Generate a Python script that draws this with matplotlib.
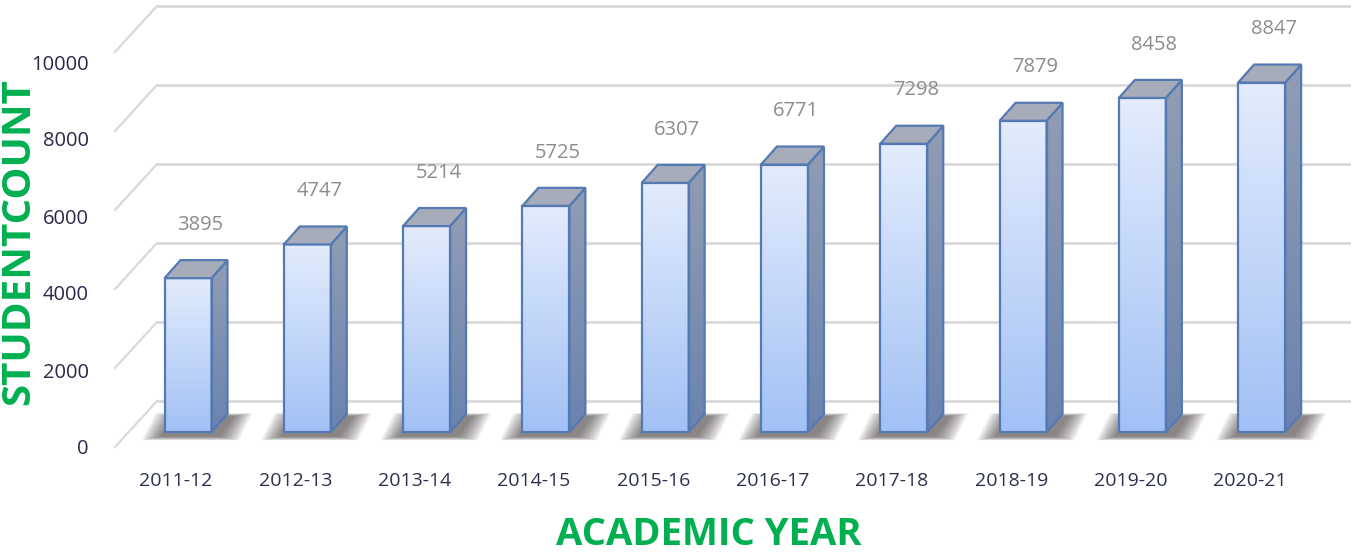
import matplotlib.pyplot as plt
import numpy as np
from matplotlib.colors import LinearSegmentedColormap
from matplotlib.patches import Polygon

years = ["2011-12", "2012-13", "2013-14", "2014-15", "2015-16",
         "2016-17", "2017-18", "2018-19", "2019-20", "2020-21"]
counts = [3895, 4747, 5214, 5725, 6307, 6771, 7298, 7879, 8458, 8847]
y_ticks = [0, 2000, 4000, 6000, 8000, 10000]

# fake 3-D geometry, in data units (x: categories, y: student count)
BAR_W = 0.394
DX, DY = 0.134, 456          # bar depth offset
WALL_X, WALL_DY = -0.26, 785  # back wall left edge / lift
FLOOR_DX, FLOOR_DY = 0.352, 1165

GREEN = "#00b050"
EDGE = "#5479b3"
FONT = "Open Sans"

front_cmap = LinearSegmentedColormap.from_list("front", ["#a2c1f5", "#e3ecfc"])
side_cmap = LinearSegmentedColormap.from_list("side", ["#6a83ae", "#919db4"])
grad = np.linspace(0, 1, 256).reshape(-1, 1)

fig = plt.figure(figsize=(13.51, 5.52), dpi=100)
ax = fig.add_axes([0, 0, 1, 1])
ax.set_axis_off()

# back wall gridlines + floor diagonals
for v in y_ticks:
    yb = v + WALL_DY
    ax.plot([WALL_X, 9.75], [yb, yb], color="#d9d9d9", lw=2, zorder=1,
            solid_capstyle="butt")
    ax.plot([WALL_X, WALL_X - FLOOR_DX], [yb, yb - FLOOR_DY], color="#d9d9d9",
            lw=1.6, zorder=1)

x = np.arange(len(years))
bars = ax.bar(x, counts, width=BAR_W, color="none", edgecolor=EDGE, lw=1.6,
              zorder=5)

for i, (b, v) in enumerate(zip(bars, counts)):
    x0, x1 = b.get_x(), b.get_x() + b.get_width()

    # soft floor shadow: stack of translucent shrinking parallelograms
    n = 14
    for k in range(n):
        s = 1 - k / n
        sx, sy = 0.17 * s, 200 * s
        shadow = Polygon([(x0 - 0.02 - sx, -110 - sy * 0.5),
                          (x1 + 0.06 + sx, -110 - sy * 0.5),
                          (x1 + DX + 0.04 + sx, DY - 60 + sy * 0.4),
                          (x0 + DX - 0.04 - sx, DY - 60 + sy * 0.4)],
                         closed=True, facecolor="#3b3633", edgecolor="none",
                         alpha=0.06, zorder=2)
        ax.add_patch(shadow)

    # front face gradient
    im = ax.imshow(grad, cmap=front_cmap, origin="lower", aspect="auto",
                   extent=[x0, x1, 0, v], zorder=4)
    im.set_clip_path(b)

    # side face
    side = Polygon([(x1, 0), (x1 + DX, DY), (x1 + DX, v + DY), (x1, v)],
                   closed=True, facecolor="none", edgecolor=EDGE, lw=1.6,
                   zorder=5)
    ax.add_patch(side)
    im2 = ax.imshow(grad, cmap=side_cmap, origin="lower", aspect="auto",
                    extent=[x1, x1 + DX, 0, v + DY], zorder=4)
    im2.set_clip_path(side)

    # top face
    top = Polygon([(x0, v), (x1, v), (x1 + DX, v + DY), (x0 + DX, v + DY)],
                  closed=True, facecolor="#a6acb9", edgecolor=EDGE, lw=1.6,
                  zorder=5)
    ax.add_patch(top)

    ax.text(i + 0.1, v + 1350, f"{v}", ha="center", va="center",
            color="#8c8c8c", fontsize=14.5, family=FONT, zorder=6)
    ax.text(i - 0.1, -1240, years[i], ha="center", va="center",
            color="#2b3050", fontsize=14, family=FONT)

ax.set_xlim(-1.576, 9.749)
ax.set_ylim(-3038, 10937)

# y tick labels sit at the front ends of the floor diagonals
ay = fig.add_axes([115 / 1351, (552 - 447) / 552, 0.001, (447 - 62) / 552])
ay.set_ylim(0, 10000)
ay.set_yticks(y_ticks)
ay.set_yticklabels([str(t) for t in y_ticks], family=FONT, fontsize=14.5,
                   color="#2a2848")
ay.tick_params(axis="y", length=0, pad=19)
ay.set_xticks([])
for sp in ay.spines.values():
    sp.set_visible(False)
ay.patch.set_alpha(0)

fig.text(19 / 1351, 1 - 242 / 552, "STUDENTCOUNT", rotation=90, ha="center",
         va="center", color=GREEN, fontsize=29, fontweight="bold", family=FONT)
fig.text(709 / 1351, 1 - 535 / 552, "ACADEMIC YEAR", ha="center", va="center",
         color=GREEN, fontsize=27.5, fontweight="bold", family=FONT)

fig.savefig("out.png", dpi=100)
